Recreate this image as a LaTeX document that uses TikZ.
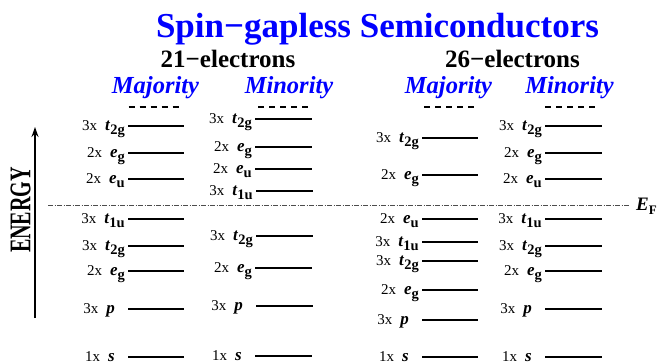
\documentclass[tikz,border=0pt]{standalone}
\usepackage{fontspec}
\setmainfont{Liberation Serif}
\usetikzlibrary{arrows.meta}
\definecolor{hblue}{RGB}{0,0,255}
\newcommand\orb[2]{{\fontsize{17}{18}\selectfont\textbf{\textit{#1}}}\raisebox{-4.5pt}{\fontsize{14.5}{15}\selectfont\bfseries #2}}
\newcommand\lev[7]{% name, xstart, y, count, letter, subscript, length
  \coordinate (#1a) at (#2,#3);
  \coordinate (#1b) at (#2+#7,#3);
  \draw[level] (#1a) -- (#1b);
  \node[lab] (#1l) at (#2-3,#3+4) {#4x\hspace{8pt}\orb{#5}{#6}};
}
\newcommand\nosub{\hspace{10pt}}
\begin{document}
\begin{tikzpicture}[x=1pt,y=-1pt,
  level/.style={line width=2pt},
  lab/.style={anchor=base east,inner sep=0pt,font=\fontsize{15}{16}\selectfont},
  head/.style={anchor=base,inner sep=0pt,text=hblue,font=\fontsize{24.5}{26}\selectfont\bfseries\itshape},
  sub/.style={anchor=base,inner sep=0pt,font=\fontsize{25}{28}\selectfont\bfseries},
  dashrow/.style={line width=2pt,dash pattern=on 6pt off 5pt},
  fermi/.style={line width=0.6pt,draw=black!70,dash pattern=on 5pt off 1.5pt on 1pt off 1.5pt}]
\useasboundingbox (0,0) rectangle (659,364);
% title
\node[anchor=base,inner sep=0pt,text=hblue,font=\fontsize{35}{38}\selectfont\bfseries] (title) at (377.5,37) {Spin−gapless Semiconductors};
\node[sub] (s21) at (228,67) {21−electrons};
\node[sub] (s26) at (512.5,67) {26−electrons};
\node[head] (h1) at (155.5,93) {Majority};
\node[head] (h2) at (289,93) {Minority};
\node[head] (h3) at (448.5,93) {Majority};
\node[head] (h4) at (569.5,93) {Minority};
\foreach \c/\n in {153.5/d1,283/d2,449/d3,570/d4}{
  \coordinate (\n a) at (\c-25,107);
  \coordinate (\n b) at (\c+25,107);
  \draw[dashrow] (\n a) -- (\n b);
}
% energy axis
\coordinate (ea) at (35,318);
\coordinate (eb) at (35,127);
\draw[line width=1.5pt,-{Stealth[length=10pt,width=7pt]}] (ea) -- (eb);
\node[rotate=90,inner sep=0pt,font=\fontsize{30}{32}\selectfont\bfseries] (energy) at (20.5,210) {\scalebox{0.67}[1]{ENERGY}};
% Fermi level
\coordinate (fa) at (48,205);
\coordinate (fb) at (630,205);
\draw[fermi] (fa) -- (fb);
\node[anchor=base west,inner sep=0pt] (ef) at (636,210) {\fontsize{19}{20}\selectfont\textbf{\textit{E}}\raisebox{-4pt}{\fontsize{13}{14}\selectfont\bfseries F}};
% column 1: 21 majority
\lev{a1}{128}{126}{3}{t}{2g}{56}
\lev{a2}{128}{153}{2}{e}{g}{56}
\lev{a3}{128}{179}{2}{e}{u}{56}
\lev{a4}{128}{219}{3}{t}{1u}{56}
\lev{a5}{128}{246}{3}{t}{2g}{56}
\lev{a6}{128}{271}{2}{e}{g}{56}
\lev{a7}{128}{309}{3}{p}{\nosub}{56}
\lev{a8}{128}{357}{1}{s}{\nosub}{56}
% column 2: 21 minority
\lev{b1}{255}{119}{3}{t}{2g}{57}
\lev{b2}{255}{147}{2}{e}{g}{57}
\lev{b3}{255}{169}{2}{e}{u}{57}
\lev{b4}{256}{191}{3}{t}{1u}{57}
\lev{b5}{256}{236}{3}{t}{2g}{57}
\lev{b6}{255}{268}{2}{e}{g}{57}
\lev{b7}{256}{306}{3}{p}{\nosub}{57}
\lev{b8}{255}{356}{1}{s}{\nosub}{57}
% column 3: 26 majority
\lev{c1}{422}{138}{3}{t}{2g}{56}
\lev{c2}{422}{175}{2}{e}{g}{56}
\lev{c3}{422}{219}{2}{e}{u}{56}
\lev{c4}{422}{242}{3}{t}{1u}{56}
\lev{c5}{422}{261}{3}{t}{2g}{56}
\lev{c6}{422}{290}{2}{e}{g}{56}
\lev{c7}{422}{320}{3}{p}{\nosub}{56}
\lev{c8}{422}{357}{1}{s}{\nosub}{56}
% column 4: 26 minority
\lev{e1}{545}{126}{3}{t}{2g}{57}
\lev{e2}{545}{153}{2}{e}{g}{57}
\lev{e3}{545}{179}{2}{e}{u}{57}
\lev{e4}{545}{219}{3}{t}{1u}{57}
\lev{e5}{545}{246}{3}{t}{2g}{57}
\lev{e6}{545}{271}{2}{e}{g}{57}
\lev{e7}{545}{309}{3}{p}{\nosub}{57}
\lev{e8}{545}{357}{1}{s}{\nosub}{57}
\end{tikzpicture}
\end{document}
